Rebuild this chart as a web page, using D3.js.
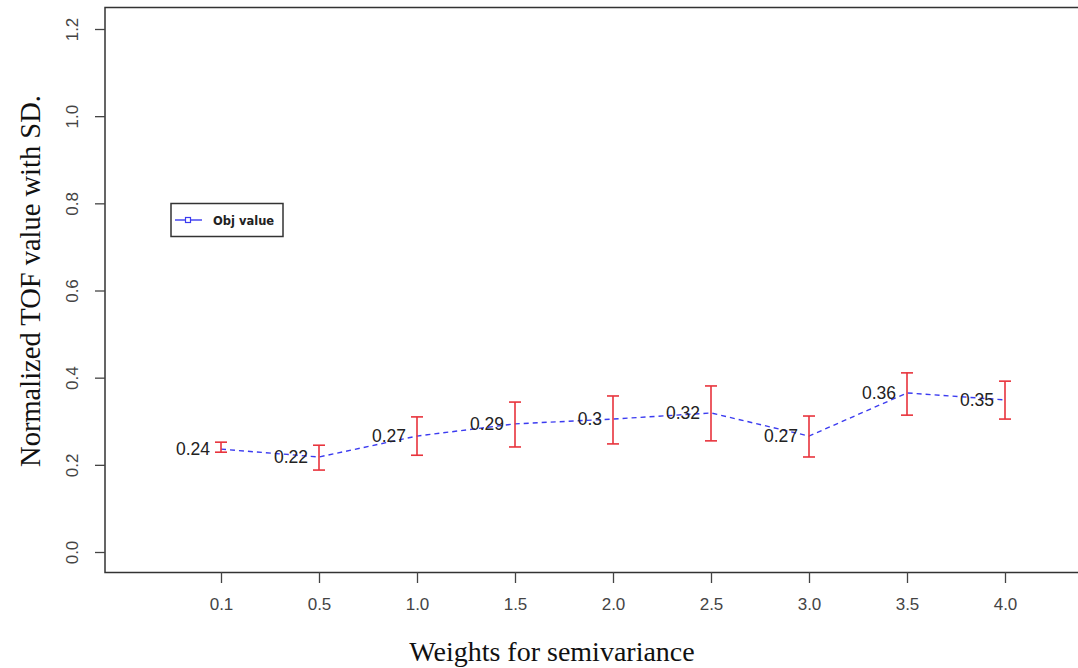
<!DOCTYPE html>
<html>
<head>
<meta charset="utf-8">
<script src="https://cdn.jsdelivr.net/npm/d3@7"></script>
<style>
  body { margin: 0; background: #fff; }
  svg { display: block; }
</style>
</head>
<body>
<script>
'use strict';

// chart values
const weights = ["0.1", "0.5", "1.0", "1.5", "2.0", "2.5", "3.0", "3.5", "4.0"];
const objValue = [0.236, 0.218, 0.266, 0.294, 0.305, 0.319, 0.266, 0.365, 0.349];
const sdLow = [0.229, 0.188, 0.222, 0.241, 0.248, 0.255, 0.218, 0.314, 0.305];
const sdHigh = [0.252, 0.245, 0.310, 0.344, 0.358, 0.381, 0.312, 0.411, 0.392];
const valueLabels = ["0.24", "0.22", "0.27", "0.29", "0.3", "0.32", "0.27", "0.36", "0.35"];
const yTicks = [0.0, 0.2, 0.4, 0.6, 0.8, 1.0, 1.2];

const width = 1078, height = 668;

const svg = d3.select('body')
  .append('svg')
  .attr('width', width)
  .attr('height', height);

// scales
const x = d3.scalePoint()
  .domain(weights)
  .range([221, 1005]);

const y = d3.scaleLinear()
  .domain([0, 1.2])
  .range([552, 29]);

// plot frame (right edge runs off the picture)
svg.append('rect')
  .attr('x', 105)
  .attr('y', 7.5)
  .attr('width', 1000)
  .attr('height', 565)
  .attr('fill', 'none')
  .attr('stroke', '#333')
  .attr('stroke-width', 1.5);

// x axis
const xAxis = d3.axisBottom(x).tickSize(11).tickPadding(15);
const gx = svg.append('g')
  .attr('transform', 'translate(0,572)')
  .call(xAxis);
gx.select('.domain').remove();
gx.selectAll('line').attr('stroke', '#444').attr('stroke-width', 1.3);
gx.selectAll('text')
  .attr('fill', '#444')
  .style('font-family', 'Liberation Sans, Arial, sans-serif')
  .style('font-size', '17px');

// y axis, labels turned like R's las=0
const yAxis = d3.axisLeft(y).tickValues(yTicks).tickFormat(d3.format('.1f')).tickSize(10);
const gy = svg.append('g')
  .attr('transform', 'translate(105,0)')
  .call(yAxis);
gy.select('.domain').remove();
gy.selectAll('line').attr('stroke', '#444').attr('stroke-width', 1.3);
gy.selectAll('text')
  .attr('fill', '#444')
  .attr('x', null)
  .attr('dy', null)
  .attr('text-anchor', 'middle')
  .attr('transform', 'translate(-33,0) rotate(-90)')
  .attr('dominant-baseline', 'central')
  .style('font-family', 'Liberation Sans, Arial, sans-serif')
  .style('font-size', '17px');

// axis titles
svg.append('text')
  .attr('x', 552)
  .attr('y', 661)
  .attr('text-anchor', 'middle')
  .style('font-family', 'Liberation Serif, Times New Roman, serif')
  .style('font-size', '28px')
  .attr('fill', '#111')
  .text('Weights for semivariance');

svg.append('text')
  .attr('transform', 'translate(40,281) rotate(-90)')
  .attr('text-anchor', 'middle')
  .style('font-family', 'Liberation Serif, Times New Roman, serif')
  .style('font-size', '28.5px')
  .attr('fill', '#111')
  .text('Normalized TOF value with SD.');

// dashed line of objective values
const line = d3.line()
  .x((d, i) => x(weights[i]))
  .y((d) => y(d));

svg.append('path')
  .datum(objValue)
  .attr('fill', 'none')
  .attr('stroke', '#3b3bf0')
  .attr('stroke-width', 1.4)
  .attr('stroke-dasharray', '5,4')
  .attr('d', line);

// error bars
const bars = svg.append('g')
  .attr('stroke', '#e8333c')
  .attr('stroke-width', 1.6);

weights.forEach((w, i) => {
  const cx = x(w);
  bars.append('line')
    .attr('x1', cx).attr('x2', cx)
    .attr('y1', y(sdLow[i])).attr('y2', y(sdHigh[i]));
  bars.append('line')
    .attr('x1', cx - 6).attr('x2', cx + 6)
    .attr('y1', y(sdLow[i])).attr('y2', y(sdLow[i]));
  bars.append('line')
    .attr('x1', cx - 6).attr('x2', cx + 6)
    .attr('y1', y(sdHigh[i])).attr('y2', y(sdHigh[i]));
});

// value labels to the left of each point
svg.append('g')
  .selectAll('text')
  .data(objValue)
  .enter()
  .append('text')
  .attr('x', (d, i) => x(weights[i]) - 11)
  .attr('y', (d) => y(d))
  .attr('text-anchor', 'end')
  .attr('dominant-baseline', 'central')
  .style('font-family', 'Liberation Sans, Arial, sans-serif')
  .style('font-size', '17.5px')
  .attr('fill', '#222')
  .text((d, i) => valueLabels[i]);

// legend
const legend = svg.append('g');
legend.append('rect')
  .attr('x', 171).attr('y', 203.5)
  .attr('width', 112).attr('height', 33)
  .attr('fill', '#fff')
  .attr('stroke', '#333')
  .attr('stroke-width', 1.5);
legend.append('line')
  .attr('x1', 175).attr('x2', 202)
  .attr('y1', 220).attr('y2', 220)
  .attr('stroke', '#3b3bf0')
  .attr('stroke-width', 1.4);
legend.append('rect')
  .attr('x', 185.5).attr('y', 217.5)
  .attr('width', 5).attr('height', 5)
  .attr('fill', '#fff')
  .attr('stroke', '#3b3bf0')
  .attr('stroke-width', 1.2);
legend.append('text')
  .attr('x', 213)
  .attr('y', 221)
  .attr('dominant-baseline', 'central')
  .style('font-family', 'DejaVu Sans, Verdana, sans-serif')
  .style('font-size', '11.5px')
  .style('font-weight', 'bold')
  .attr('fill', '#222')
  .text('Obj value');
</script>
</body>
</html>
